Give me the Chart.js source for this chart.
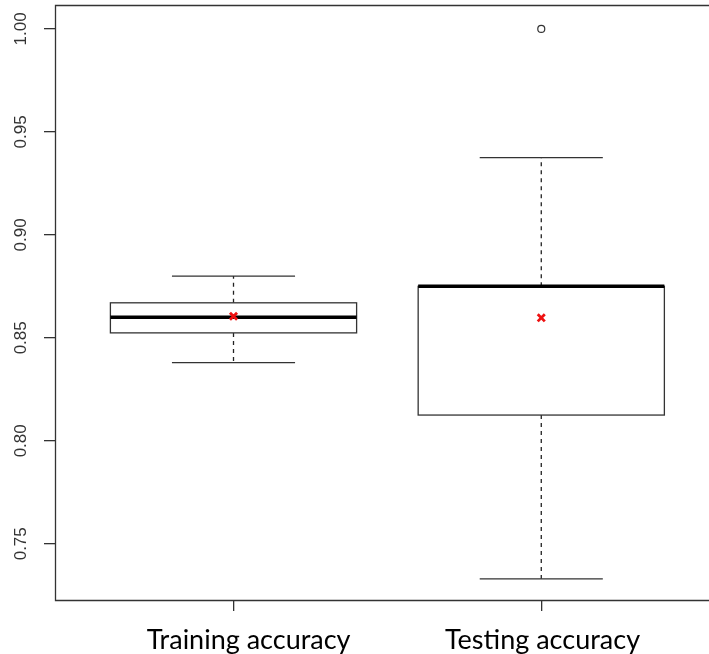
<!DOCTYPE html>
<html>
<head>
<meta charset="utf-8">
<script src="https://cdn.jsdelivr.net/npm/chart.js@4/dist/chart.umd.min.js"></script>
<style>
  html, body { margin: 0; padding: 0; background: #ffffff; }
  #wrap { width: 709px; height: 654px; }
</style>
</head>
<body>
<div id="wrap"><canvas id="c" width="709" height="654"></canvas></div>
<script>
// Box plot summaries, one entry per group
const categories  = ['Training accuracy', 'Testing accuracy'];
const whiskerLow  = [0.838, 0.733];
const q1          = [0.8524, 0.8125];
const medians     = [0.860, 0.875];
const q3          = [0.867, 0.875];
const whiskerHigh = [0.880, 0.9375];
const means       = [0.8605, 0.8597];
const outliers    = [[], [1.0]];
const yTicks      = [0.75, 0.80, 0.85, 0.90, 0.95, 1.00];

const boxWidth = 0.8;      // in x-axis units
const capWidth = 0.4;
// category names sit a little off their tick marks
const labelShift = [0.049, 0.004];

const boxPlugin = {
  id: 'boxes',
  beforeDatasetsDraw(chart) {
    const { ctx, chartArea: a, scales: { x, y } } = chart;
    ctx.save();
    // frame around the plot region (right side runs off the canvas)
    ctx.strokeStyle = '#333';
    ctx.lineWidth = 1.3;
    ctx.beginPath();
    ctx.moveTo(a.right + 2, a.top + 0.5);
    ctx.lineTo(a.left + 0.5, a.top + 0.5);
    ctx.lineTo(a.left + 0.5, a.bottom + 0.5);
    ctx.lineTo(a.right + 2, a.bottom + 0.5);
    ctx.stroke();

    categories.forEach((_, i) => {
      const pos = i + 1;
      const xc = x.getPixelForValue(pos);
      const xl = x.getPixelForValue(pos - boxWidth / 2);
      const xr = x.getPixelForValue(pos + boxWidth / 2);
      const cl = x.getPixelForValue(pos - capWidth / 2);
      const cr = x.getPixelForValue(pos + capWidth / 2);
      const yLo = y.getPixelForValue(whiskerLow[i]);
      const yQ1 = y.getPixelForValue(q1[i]);
      const yMd = y.getPixelForValue(medians[i]);
      const yQ3 = y.getPixelForValue(q3[i]);
      const yHi = y.getPixelForValue(whiskerHigh[i]);

      // dashed whiskers
      ctx.strokeStyle = '#222';
      ctx.lineWidth = 1.3;
      ctx.setLineDash([4, 4]);
      ctx.beginPath();
      ctx.moveTo(xc, yQ3); ctx.lineTo(xc, yHi);
      ctx.moveTo(xc, yQ1); ctx.lineTo(xc, yLo);
      ctx.stroke();
      ctx.setLineDash([]);

      // whisker caps
      ctx.strokeStyle = '#333';
      ctx.beginPath();
      ctx.moveTo(cl, yHi); ctx.lineTo(cr, yHi);
      ctx.moveTo(cl, yLo); ctx.lineTo(cr, yLo);
      ctx.stroke();

      // box
      ctx.fillStyle = '#ffffff';
      ctx.fillRect(xl, yQ3, xr - xl, yQ1 - yQ3);
      ctx.strokeStyle = '#333';
      ctx.lineWidth = 1.3;
      ctx.strokeRect(xl, yQ3, xr - xl, yQ1 - yQ3);

      // median
      ctx.strokeStyle = '#000';
      ctx.lineWidth = 3.5;
      ctx.beginPath();
      ctx.moveTo(xl, yMd); ctx.lineTo(xr, yMd);
      ctx.stroke();
    });
    ctx.restore();
  }
};

const meanPoints = means.map((m, i) => ({ x: i + 1, y: m }));
const outlierPoints = [];
outliers.forEach((list, i) => list.forEach(v => outlierPoints.push({ x: i + 1, y: v })));

function noEdgePadding(s) {
  s.paddingTop = 0; s.paddingBottom = 0; s.paddingLeft = 0; s.paddingRight = 0;
}

const xRange = { min: 0.42, max: 2.545 };

new Chart(document.getElementById('c'), {
  type: 'scatter',
  data: {
    datasets: [
      {
        label: 'Outliers',
        data: outlierPoints,
        pointStyle: 'circle',
        pointRadius: 3.5,
        pointHoverRadius: 3.5,
        borderColor: '#333',
        backgroundColor: '#ffffff',
        borderWidth: 1.2
      },
      {
        label: 'Mean',
        data: meanPoints,
        pointStyle: 'crossRot',
        pointRadius: 5,
        pointHoverRadius: 5,
        borderColor: '#ee1111',
        backgroundColor: '#ee1111',
        borderWidth: 2.8
      }
    ]
  },
  options: {
    responsive: false,
    animation: false,
    events: [],
    layout: { autoPadding: false, padding: { top: 5, right: 0, left: 0, bottom: 0 } },
    plugins: { legend: { display: false }, tooltip: { enabled: false } },
    scales: {
      // tick marks under each group
      x: {
        type: 'linear',
        position: 'bottom',
        weight: 1,
        min: xRange.min,
        max: xRange.max,
        afterBuildTicks: s => { s.ticks = categories.map((_, i) => ({ value: i + 1 })); },
        afterFit: s => { s.height = 11; noEdgePadding(s); },
        border: { display: false },
        grid: { drawOnChartArea: false, drawTicks: true, tickLength: 11, color: '#333', lineWidth: 1.3 },
        ticks: { display: false }
      },
      // group names
      names: {
        type: 'linear',
        position: 'bottom',
        weight: 2,
        min: xRange.min,
        max: xRange.max,
        afterBuildTicks: s => { s.ticks = categories.map((_, i) => ({ value: i + 1 + labelShift[i] })); },
        afterFit: s => { s.height = 43; noEdgePadding(s); },
        border: { display: false },
        grid: { display: false, drawTicks: false },
        ticks: {
          callback: (v, idx) => categories[idx],
          maxRotation: 0,
          minRotation: 0,
          padding: 13,
          color: '#000',
          font: { family: 'Lato', size: 27 }
        }
      },
      y: {
        type: 'linear',
        min: 0.7227,
        max: 1.0116,
        afterBuildTicks: s => { s.ticks = yTicks.map(v => ({ value: v })); },
        afterFit: s => { s.width = 55; noEdgePadding(s); },
        border: { display: false },
        grid: { drawOnChartArea: false, drawTicks: true, tickLength: 11, color: '#333', lineWidth: 1.3 },
        ticks: {
          callback: v => v.toFixed(2),
          minRotation: 90,
          maxRotation: 90,
          crossAlign: 'center',
          padding: 6,
          color: '#333',
          font: { family: 'Liberation Sans', size: 17 }
        }
      }
    }
  },
  plugins: [boxPlugin]
});
</script>
</body>
</html>
